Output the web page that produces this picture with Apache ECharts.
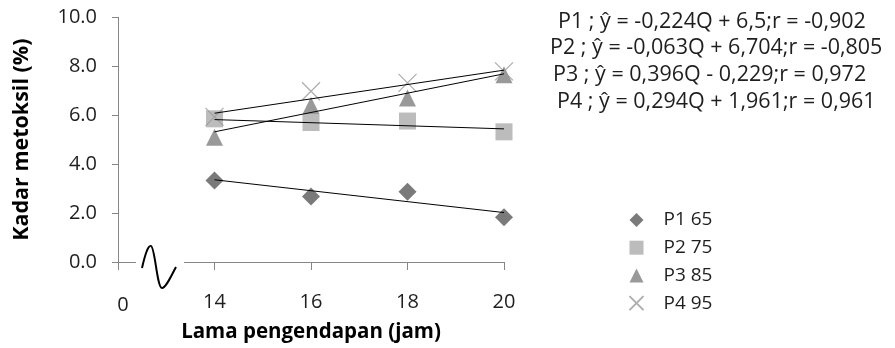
<!DOCTYPE html>
<html>
<head>
<meta charset="utf-8">
<script src="https://cdn.jsdelivr.net/npm/echarts@6/dist/echarts.min.js"></script>
<style>
	html, body { margin: 0; padding: 0; background: #fff; }
	#chart { width: 895px; height: 348px; }
</style>
</head>
<body>
<div id="chart"></div>
<script>
// eixo x quebrado: 0 e depois 14..20 jam
const hours = ['0', '14', '16', '18', '20']
const dataHours = ['14', '16', '18', '20']

// kadar metoksil (%)
const p1 = [3.33, 2.68, 2.87, 1.83]
const p2 = [5.85, 5.70, 5.76, 5.32]
const p3 = [5.10, 6.40, 6.70, 7.65]
const p4 = [5.93, 6.98, 7.32, 7.79]

// linhas de tendência (extremos em 14 e 20)
const trendHours = ['14', '20']
const t1 = [3.36, 2.02]
const t2 = [5.82, 5.44]
const t3 = [5.32, 7.69]
const t4 = [6.08, 7.84]

const names = ['P1 65', 'P2 75', 'P3 85', 'P4 95']
const equations = [
	'P1 ; ŷ = -0,224Q + 6,5;r = -0,902',
	'P2 ; ŷ = -0,063Q + 6,704;r = -0,805',
	'P3 ; ŷ = 0,396Q - 0,229;r = 0,972',
	'P4 ; ŷ = 0,294Q + 1,961;r = 0,961',
]

const font = 'Open Sans'
const txt = '#1e1e1e'
const axisGray = '#868686'

const pairs = (xs, ys) => xs.map((x, i) => [x, ys[i]])

const myChart = echarts.init(document.getElementById('chart'), null, { renderer: 'canvas' })

const scatter = (name, data, symbol, size, style) => ({
	name: name,
	type: 'scatter',
	data: pairs(dataHours, data),
	symbol: symbol,
	symbolSize: size,
	itemStyle: style,
	z: 2,
})

const trend = (name, data) => ({
	name: name,
	type: 'line',
	data: pairs(trendHours, data),
	symbol: 'none',
	silent: true,
	lineStyle: { color: '#000', width: 1 },
	z: 3,
})

const eqLeft = [558, 550, 553, 557]
const eqMid = [22, 48, 75, 102]

// sinal de quebra do eixo
const squiggle = [
	{ x1: 142, y1: 268, cpx1: 145, cpy1: 255, cpx2: 148, cpy2: 245, x2: 151, y2: 246 },
	{ x1: 151, y1: 246, cpx1: 155, cpy1: 247, cpx2: 157, cpy2: 288, x2: 162, y2: 288 },
	{ x1: 162, y1: 288, cpx1: 166, cpy1: 288, cpx2: 171, cpy2: 276, x2: 176, y2: 267 },
]

let option = {
	animation: false,
	textStyle: { fontFamily: font },
	grid: { left: 118, right: 391, top: 17.3, bottom: 84.7 },
	legend: {
		orient: 'vertical',
		left: 622,
		top: 205,
		data: names,
		itemWidth: 14,
		itemHeight: 14,
		itemGap: 7.7,
		selectedMode: false,
		textStyle: { fontFamily: font, fontSize: 19, lineHeight: 20, color: txt, padding: [0, 0, 0, 15] },
	},
	xAxis: {
		type: 'category',
		data: hours,
		boundaryGap: false,
		name: 'Lama pengendapan (jam)',
		nameLocation: 'middle',
		nameGap: 60,
		nameTextStyle: { fontFamily: font, fontSize: 20.5, fontWeight: 'bold', color: '#000' },
		axisLine: { lineStyle: { color: axisGray, width: 1 } },
		axisTick: { alignWithLabel: true, length: 8, lineStyle: { color: axisGray } },
		axisLabel: {
			margin: 30,
			fontSize: 20,
			color: txt,
			fontFamily: font,
			formatter: (v) => (v === '0' ? '{z|0}' : v),
			rich: { z: { fontSize: 20, fontFamily: font, color: txt, padding: [3, 0, 0, 10] } },
		},
		splitLine: { show: false },
	},
	yAxis: {
		type: 'value',
		min: 0,
		max: 10,
		interval: 2,
		name: 'Kadar metoksil (%)',
		nameLocation: 'middle',
		nameRotate: 90,
		nameGap: 85,
		nameTextStyle: { fontFamily: font, fontSize: 21.5, fontWeight: 'bold', color: '#000' },
		axisLine: { show: true, lineStyle: { color: axisGray, width: 1 } },
		axisTick: { show: true, length: 6, lineStyle: { color: axisGray } },
		axisLabel: { margin: 21, fontSize: 20, color: txt, fontFamily: font, formatter: (v) => v.toFixed(1) },
		splitLine: { show: false },
	},
	series: [
		scatter(names[0], p1, 'diamond', 18, { color: '#595959' }),
		scatter(names[1], p2, 'rect', 17, { color: '#ababab' }),
		scatter(names[2], p3, 'triangle', 17, { color: '#7f7f7f' }),
		scatter(names[3], p4, 'path://M0,0L10,10M10,0L0,10', 18, { color: 'none', borderColor: '#9a9a9a', borderWidth: 1.3 }),
		trend('t1', t1),
		trend('t2', t2),
		trend('t3', t3),
		trend('t4', t4),
	],
	graphic: [
		// corte do eixo x
		{ type: 'rect', shape: { x: 136, y: 260, width: 48, height: 8 }, style: { fill: '#fff' }, z: 10 },
	].concat(squiggle.map((s) => ({
		type: 'bezierCurve',
		shape: s,
		style: { fill: 'none', stroke: '#000', lineWidth: 2 },
		z: 11,
	}))).concat(equations.map((t, i) => ({
		type: 'text',
		x: eqLeft[i],
		y: eqMid[i],
		style: { text: t, fontFamily: font, fontSize: 21.5, fill: txt, align: 'left', verticalAlign: 'middle' },
		z: 11,
	}))),
}
myChart.setOption(option)

window.addEventListener('resize', () => {
	myChart.resize()
})
</script>
</body>
</html>
